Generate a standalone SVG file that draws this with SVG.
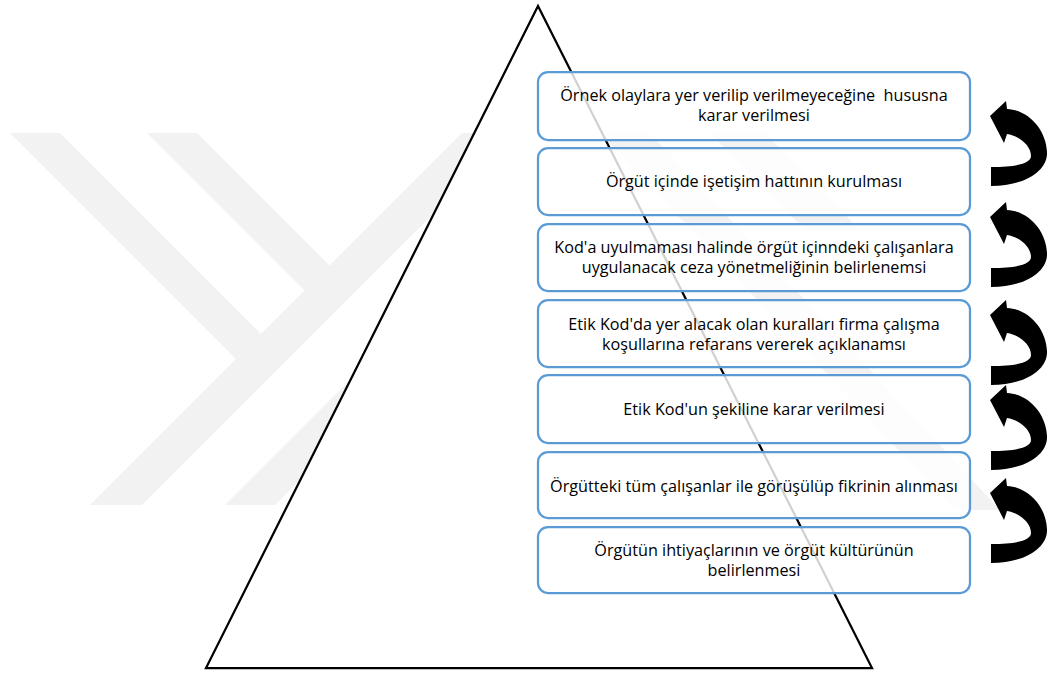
<svg xmlns="http://www.w3.org/2000/svg" width="1048" height="675" viewBox="0 0 1048 675">
  <style>
    .wm { fill: #f2f2f2; }
    .box { fill: #ffffff; fill-opacity: 0.82; stroke: #5b9bd5; stroke-width: 2.25; }
    .lbl { font-family: "Open Sans", "Liberation Sans", sans-serif; font-size: 16.2px; fill: #000000; text-anchor: middle; white-space: pre; }
    .arr { fill: #000000; }
  </style>
  <defs>
    <path id="curved" d="M991,186 C1026,186 1048,170 1047,152 C1046,129 1028,110 1007,109 L1006,101 L990,116 L1004,143 L1007,134 C1020,136 1031,146 1031,156 C1031,163 1018,167 991,167 Z"/>
  </defs>
  <rect width="1048" height="675" fill="#ffffff"/>
  <g id="watermark">
    <polygon class="wm" points="90,505 142,505 514,133 462,133"/>
    <polygon class="wm" points="10,133 60,133 261,334 236,359"/>
    <polygon class="wm" points="147,133 197,133 330,266 305,291"/>
    <polygon class="wm" points="225,505 275,505 420,360 370,360"/>
    <polygon class="wm" points="600,133 650,133 1000,510 955,510"/>
    <polygon class="wm" points="710,133 765,133 860,230 805,230"/>
  </g>
  <g id="pyramid">
    <polygon points="538,6 206,668 872,668" fill="#ffffff" stroke="#000000" stroke-width="2.25" stroke-linejoin="miter"/>
  </g>
  <g id="step1">
    <rect class="box" x="538" y="72" width="432" height="68" rx="10"/>
    <text class="lbl" x="754" y="101">Örnek olaylara yer verilip verilmeyeceğine  hususna</text>
    <text class="lbl" x="754" y="121">karar verilmesi</text>
  </g>
  <g id="step2">
    <rect class="box" x="538" y="148" width="432" height="67" rx="10"/>
    <text class="lbl" x="754" y="187">Örgüt içinde işetişim hattının kurulması</text>
  </g>
  <g id="step3">
    <rect class="box" x="538" y="224" width="432" height="67" rx="10"/>
    <text class="lbl" x="754" y="253">Kod'a uyulmaması halinde örgüt içinndeki çalışanlara</text>
    <text class="lbl" x="754" y="273">uygulanacak ceza yönetmeliğinin belirlenemsi</text>
  </g>
  <g id="step4">
    <rect class="box" x="538" y="300" width="432" height="67" rx="10"/>
    <text class="lbl" x="754" y="330">Etik Kod'da yer alacak olan kuralları firma çalışma</text>
    <text class="lbl" x="754" y="350">koşullarına refarans vererek açıklanamsı</text>
  </g>
  <g id="step5">
    <rect class="box" x="538" y="375" width="432" height="68" rx="10"/>
    <text class="lbl" x="754" y="415">Etik Kod'un şekiline karar verilmesi</text>
  </g>
  <g id="step6">
    <rect class="box" x="538" y="452" width="432" height="66" rx="10"/>
    <text class="lbl" x="754" y="492">Örgütteki tüm çalışanlar ile görüşülüp fikrinin alınması</text>
  </g>
  <g id="step7">
    <rect class="box" x="538" y="527" width="432" height="66" rx="10"/>
    <text class="lbl" x="754" y="556">Örgütün ihtiyaçlarının ve örgüt kültürünün</text>
    <text class="lbl" x="754" y="576">belirlenmesi</text>
  </g>
  <g id="connectors">
    <use href="#curved" class="arr"/>
    <use href="#curved" class="arr" transform="translate(0,101)"/>
    <use href="#curved" class="arr" transform="translate(0,199)"/>
    <use href="#curved" class="arr" transform="translate(0,284)"/>
    <use href="#curved" class="arr" transform="translate(0,377)"/>
  </g>
</svg>
